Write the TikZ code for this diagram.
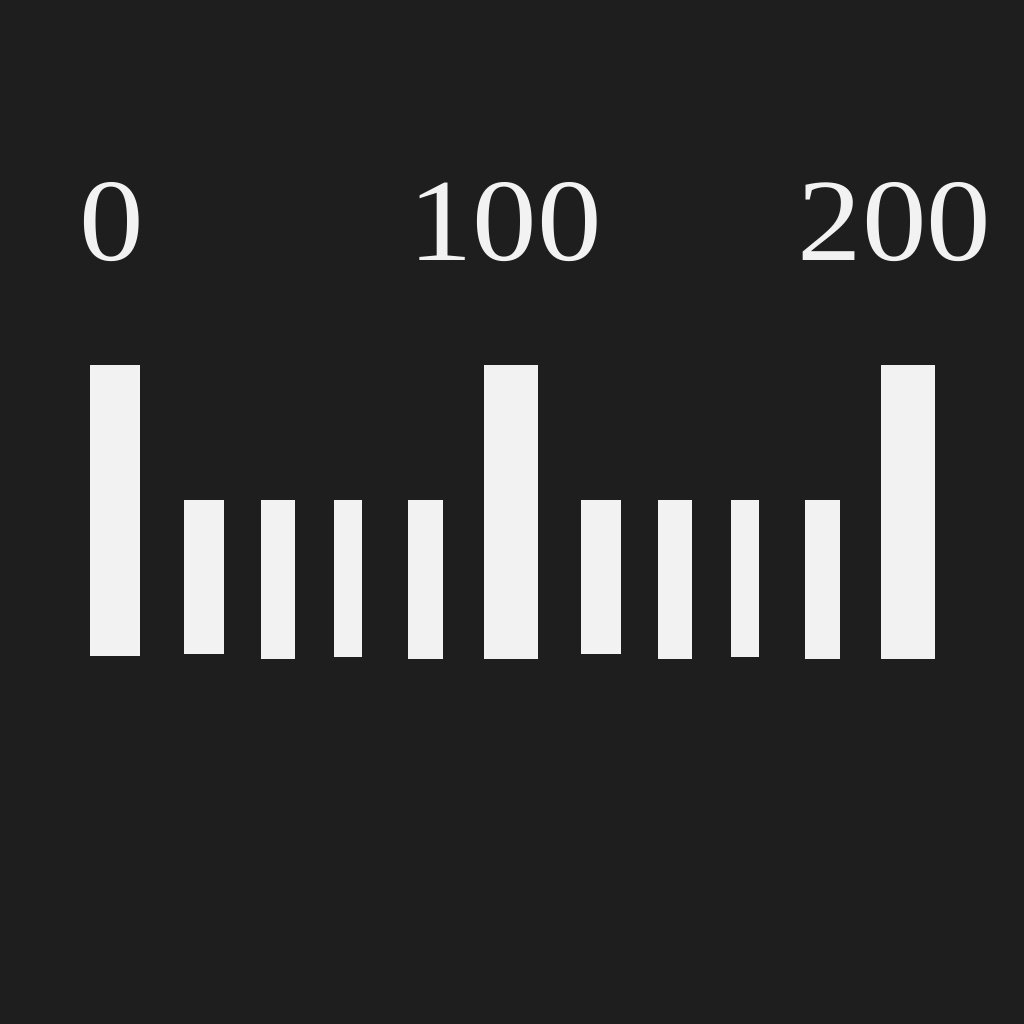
\documentclass[tikz,border=0pt]{standalone}
\usepackage{tikz}
\usepackage{xcolor}
\usepackage{fontspec}
\setmainfont{Liberation Serif}

\definecolor{bgdark}{RGB}{30,30,30}
\definecolor{barwhite}{RGB}{242,242,242}

\begin{document}
\begin{tikzpicture}[x=0.75pt,y=0.75pt,yscale=-1,xscale=1,
  bar/.style={fill=barwhite,draw=none},
  scalelabel/.style={anchor=base,inner sep=0pt,text=barwhite,xscale=1.1,font=\fontsize{88}{88}\selectfont}]
%set diagram: 1024 x 1024, dark background
\fill [bgdark] (0,0) rectangle (1024,1024) ;
\useasboundingbox (0,0) rectangle (1024,1024) ;

%Shape: Rectangle [long 0]
\draw [bar] (90,365) rectangle (140,656) ;
%Shape: Rectangle
\draw [bar] (184,500) rectangle (224,654) ;
%Shape: Rectangle
\draw [bar] (261,500) rectangle (295,659) ;
%Shape: Rectangle
\draw [bar] (334,500) rectangle (362,657) ;
%Shape: Rectangle
\draw [bar] (408,500) rectangle (443,659) ;
%Shape: Rectangle [long 100]
\draw [bar] (484,365) rectangle (538,659) ;
%Shape: Rectangle
\draw [bar] (581,500) rectangle (621,654) ;
%Shape: Rectangle
\draw [bar] (658,500) rectangle (692,659) ;
%Shape: Rectangle
\draw [bar] (731,500) rectangle (759,657) ;
%Shape: Rectangle
\draw [bar] (805,500) rectangle (840,659) ;
%Shape: Rectangle [long 200]
\draw [bar] (881,365) rectangle (935,659) ;

% Text Node
\node [scalelabel] (lbl0) at (111.5,260) {0};
% Text Node
\node [scalelabel] (lbl100) at (505,260) {100};
% Text Node
\node [scalelabel] (lbl200) at (894.5,260) {200};

\end{tikzpicture}
\end{document}
